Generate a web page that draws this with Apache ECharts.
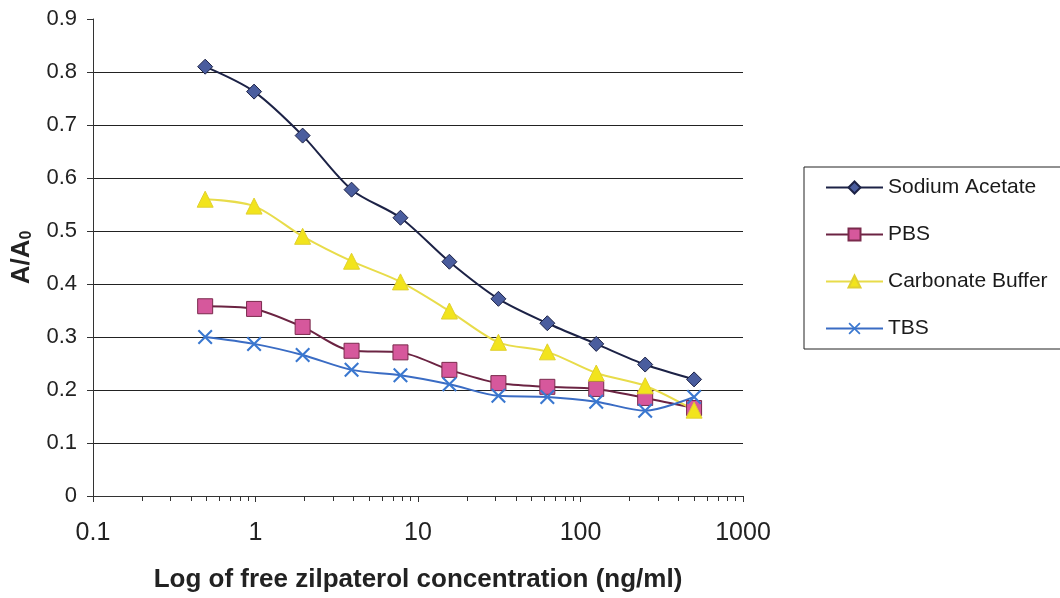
<!DOCTYPE html>
<html><head><meta charset="utf-8">
<script src="https://cdn.jsdelivr.net/npm/echarts@6/dist/echarts.min.js"></script>
<style>html,body{margin:0;padding:0;background:#fff;}#c{width:1060px;height:598px;}</style>
</head><body><div id="c"></div>
<script>
const concentrations = [0.49, 0.98, 1.95, 3.9, 7.8, 15.6, 31.25, 62.5, 125, 250, 500];
const sodiumAcetate = [0.81, 0.763, 0.68, 0.578, 0.525, 0.442, 0.372, 0.326, 0.287, 0.248, 0.22];
const pbs = [0.358, 0.353, 0.319, 0.274, 0.271, 0.238, 0.213, 0.206, 0.202, 0.185, 0.166];
const carbonateBuffer = [0.56, 0.547, 0.49, 0.443, 0.404, 0.349, 0.29, 0.272, 0.232, 0.208, 0.162];
const tbs = [0.300, 0.287, 0.266, 0.238, 0.228, 0.211, 0.189, 0.187, 0.178, 0.161, 0.187];
const seriesNames = ['Sodium Acetate', 'PBS', 'Carbonate Buffer', 'TBS'];

const pair = arr => concentrations.map((x, i) => [x, arr[i]]);
const xPath = 'path://M0,1L1,0L5,4L9,0L10,1L6,5L10,9L9,10L5,6L1,10L0,9L4,5Z';
const font = 'Liberation Sans, Arial, sans-serif';

const chart = echarts.init(document.getElementById('c'));
chart.setOption({
  animation: false,
  backgroundColor: '#fff',
  textStyle: { fontFamily: font },
  grid: { left: 93, right: 317, top: 19, bottom: 101, containLabel: false },
  legend: {
    orient: 'vertical',
    left: 804, top: 167,
    padding: [10, 200, 10, 21],
    itemGap: 26,
    itemWidth: 57,
    itemHeight: 15,
    borderColor: '#222', borderWidth: 1,
    backgroundColor: '#fff',
    textStyle: { fontFamily: font, fontSize: 21, color: '#1a1a1a' },
    data: seriesNames
  },
  xAxis: {
    type: 'log', logBase: 10, min: 0.1, max: 1000,
    name: 'Log of free zilpaterol concentration (ng/ml)',
    nameLocation: 'middle', nameGap: 71,
    nameTextStyle: { fontFamily: font, fontSize: 26, fontWeight: 'bold', color: '#222' },
    axisLine: { onZero: false, lineStyle: { color: '#333', width: 1 } },
    axisTick: { show: true, length: 6, inside: false, lineStyle: { color: '#333' } },
    minorTick: { show: true, splitNumber: 9, length: 5, lineStyle: { color: '#333' } },
    axisLabel: { fontFamily: font, fontSize: 25, color: '#222', margin: 25,
      formatter: v => String(v) },
    splitLine: { show: false }
  },
  yAxis: {
    type: 'value', min: 0, max: 0.9, interval: 0.1,
    name: '{a|A/A}{s|0}',
    nameLocation: 'middle', nameGap: 58, nameRotate: 90,
    nameTextStyle: { rich: {
      a: { fontFamily: font, fontSize: 26, fontWeight: 'bold', color: '#222' },
      s: { fontFamily: font, fontSize: 16, fontWeight: 'bold', color: '#222', verticalAlign: 'bottom', padding: [10, 0, 0, 0] }
    } },
    axisLine: { show: true, lineStyle: { color: '#333', width: 1 } },
    axisTick: { show: true, length: 6, lineStyle: { color: '#333' } },
    axisLabel: { fontFamily: font, fontSize: 22, color: '#222', margin: 16,
      formatter: v => (Math.round(v * 10) / 10).toString() },
    splitLine: { show: true, lineStyle: { width: 1,
      color: ['#222','#222','#222','#222','#222','#222','#222','#222','#222','rgba(0,0,0,0)'] } }
  },
  series: [
    { name: seriesNames[0], type: 'line', data: pair(sodiumAcetate), smooth: 0.3,
      symbol: 'diamond', symbolSize: 15,
      lineStyle: { color: '#1c2246', width: 2 },
      itemStyle: { color: '#4a5d9e', borderColor: '#1c2246', borderWidth: 1 } },
    { name: seriesNames[1], type: 'line', data: pair(pbs), smooth: 0.3,
      symbol: 'rect', symbolSize: 15,
      lineStyle: { color: '#6b2342', width: 2 },
      itemStyle: { color: '#d6589c', borderColor: '#7a2a4c', borderWidth: 1 } },
    { name: seriesNames[2], type: 'line', data: pair(carbonateBuffer), smooth: 0.3,
      symbol: 'triangle', symbolSize: 16,
      lineStyle: { color: '#e8dc4a', width: 2 },
      itemStyle: { color: '#f2e41c', borderColor: '#e0d030', borderWidth: 1 } },
    { name: seriesNames[3], type: 'line', data: pair(tbs), smooth: 0.3,
      symbol: xPath, symbolSize: 15,
      lineStyle: { color: '#3a6cc4', width: 2 },
      itemStyle: { color: '#3a78d0', borderWidth: 0 } }
  ]
});
</script></body></html>
